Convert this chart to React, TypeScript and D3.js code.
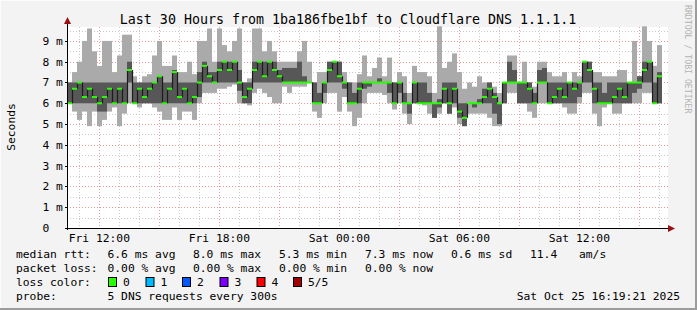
import React from "react";
import * as d3 from "d3";

const W = 697;
const H = 310;

const title = "Last 30 Hours from 1ba186fbe1bf to Cloudflare DNS 1.1.1.1";
const startTime = new Date(Date.UTC(2025, 9, 24, 10, 23));
const endTime = new Date(Date.UTC(2025, 9, 25, 16, 23));
const stepMinutes = 15;

// per-step values, ms
const median = [
  6.0, 6.7, 7.0, 6.3, 6.7, 6.3, 6.0, 6.3, 6.7, 6.0,
  6.7, 6.0, 7.6, 6.0, 6.7, 6.3, 6.7, 7.0, 7.3, 6.0,
  6.7, 7.5, 6.3, 6.7, 6.0, 6.3, 7.0, 7.8, 7.3, 7.0,
  7.6, 8.0, 7.6, 8.0, 7.0, 6.3, 6.7, 7.6, 8.0, 7.3,
  8.0, 7.6, 7.3, 7.0, 7.0, 7.0, 7.0, 7.0, 7.0, 6.0,
  6.0, 7.0, 7.6, 8.0, 7.3, 7.0, 6.0, 6.0, 6.7, 7.0,
  7.0, 7.0, 7.0, 7.0, 7.0, 6.0, 7.0, 6.0, 6.0, 7.0,
  6.0, 6.0, 6.0, 6.0, 6.0, 6.7, 6.0, 6.7, 5.6, 5.3,
  6.0, 6.0, 6.0, 6.3, 6.7, 6.3, 6.0, 7.0, 7.0, 7.0,
  7.0, 7.0, 6.7, 6.0, 7.0, 7.0, 6.0, 6.3, 6.7, 6.3,
  7.0, 6.7, 7.0, 8.0, 7.6, 6.7, 6.0, 6.0, 6.0, 6.3,
  6.7, 6.3, 7.0, 7.0, 7.0, 7.6, 8.0, 6.0, 7.3,
];
const smokeLo = [
  6.0, 6.0, 6.0, 6.0, 6.0, 6.0, 5.6, 5.6, 6.0, 6.0,
  6.0, 6.0, 7.0, 6.0, 6.0, 6.0, 6.0, 6.0, 6.0, 6.0,
  6.0, 6.0, 6.0, 6.0, 6.0, 6.0, 6.3, 7.0, 7.0, 7.0,
  7.0, 7.0, 7.0, 7.0, 6.6, 6.0, 6.0, 7.0, 7.0, 7.0,
  7.0, 7.0, 7.0, 7.0, 7.0, 7.0, 7.0, 7.0, 7.0, 6.0,
  6.0, 6.5, 7.0, 7.0, 7.0, 6.7, 6.0, 6.0, 6.0, 6.7,
  6.8, 7.0, 7.0, 7.0, 6.5, 6.0, 6.5, 6.0, 5.5, 6.0,
  6.0, 6.0, 6.0, 5.3, 5.8, 6.0, 5.5, 6.0, 5.3, 4.9,
  6.0, 5.8, 6.0, 6.0, 6.0, 5.5, 5.0, 6.0, 7.0, 7.0,
  6.0, 6.0, 6.0, 6.0, 7.0, 7.0, 6.0, 6.0, 6.0, 6.0,
  6.0, 6.0, 6.3, 7.0, 7.0, 6.0, 6.0, 6.0, 6.0, 6.0,
  6.0, 6.0, 6.0, 6.5, 6.7, 7.0, 7.0, 6.0, 6.0,
];
const smokeHi = [
  7.0, 7.0, 7.0, 7.0, 7.0, 7.0, 7.0, 7.0, 7.0, 7.0,
  7.0, 7.0, 8.0, 7.0, 7.0, 7.0, 7.0, 7.0, 7.3, 7.0,
  7.0, 7.6, 7.0, 7.0, 7.0, 7.0, 7.5, 8.0, 7.5, 7.5,
  8.0, 8.0, 8.0, 8.0, 7.6, 7.0, 7.0, 8.0, 8.0, 8.0,
  8.0, 8.0, 7.6, 7.7, 7.7, 7.7, 8.0, 7.3, 7.0, 7.0,
  6.5, 7.0, 8.0, 8.0, 8.0, 7.0, 7.0, 6.5, 7.0, 7.0,
  7.0, 7.0, 7.2, 7.0, 7.0, 7.0, 7.0, 6.5, 6.0, 7.0,
  7.0, 7.0, 6.5, 6.0, 6.2, 7.0, 7.0, 7.0, 6.0, 6.0,
  6.0, 6.0, 6.2, 6.7, 7.0, 6.5, 6.0, 7.0, 8.0, 7.6,
  7.0, 7.0, 7.0, 6.5, 7.6, 7.7, 7.0, 7.0, 7.0, 7.0,
  7.0, 7.0, 7.0, 8.0, 8.0, 7.0, 7.0, 6.5, 7.0, 7.0,
  7.0, 7.0, 7.0, 7.0, 7.3, 8.0, 8.0, 7.0, 7.5,
];
const pingMin = [
  6.0, 5.6, 5.2, 5.6, 4.9, 5.6, 4.9, 5.2, 5.6, 5.8,
  4.9, 5.5, 6.0, 6.0, 5.8, 6.0, 6.0, 5.8, 5.6, 5.2,
  5.2, 5.8, 5.2, 5.6, 5.6, 5.2, 6.0, 6.5, 6.5, 6.5,
  6.7, 6.7, 6.8, 6.9, 6.0, 6.0, 5.9, 6.5, 6.7, 6.5,
  6.3, 6.0, 6.0, 6.8, 6.5, 6.8, 6.8, 6.8, 7.0, 5.6,
  5.3, 6.0, 6.5, 6.5, 5.6, 6.3, 5.6, 4.9, 5.3, 6.0,
  6.5, 6.5, 6.5, 6.4, 6.0, 5.7, 6.0, 5.5, 5.0, 6.0,
  6.0, 5.9, 5.5, 5.3, 5.5, 6.0, 5.5, 5.8, 5.0, 4.9,
  5.5, 5.5, 5.5, 5.5, 5.3, 4.9, 4.9, 6.0, 6.5, 6.5,
  6.0, 6.0, 5.6, 5.3, 6.0, 6.0, 6.0, 6.0, 6.0, 5.8,
  5.5, 5.5, 6.0, 6.5, 6.5, 5.5, 4.9, 5.8, 6.0, 5.5,
  5.5, 6.0, 6.0, 6.0, 6.0, 6.5, 6.5, 6.0, 6.0,
];
const pingMax = [
  7.0, 7.5, 8.0, 9.0, 9.6, 8.5, 7.8, 9.0, 9.0, 7.5,
  8.3, 9.3, 9.3, 7.3, 7.0, 7.3, 7.4, 8.3, 9.0, 7.8,
  7.8, 8.3, 7.5, 7.5, 8.0, 7.4, 9.0, 9.0, 9.6, 8.0,
  9.6, 8.8, 8.5, 9.0, 9.6, 7.0, 7.2, 9.6, 9.6, 8.5,
  9.0, 8.5, 8.0, 8.0, 8.0, 8.0, 8.5, 9.0, 8.0, 7.0,
  7.5, 7.5, 8.0, 8.0, 8.0, 7.5, 7.0, 7.0, 7.4, 8.3,
  7.3, 7.7, 8.2, 7.3, 8.2, 7.0, 7.5, 7.3, 6.5, 7.8,
  7.5, 7.5, 7.3, 6.5, 9.7, 7.7, 8.0, 8.4, 7.5, 6.7,
  7.0, 6.8, 7.3, 7.0, 7.0, 6.8, 6.5, 7.0, 8.3, 8.3,
  7.0, 8.0, 7.0, 6.8, 8.0, 8.0, 7.5, 7.3, 7.3, 7.5,
  7.0, 7.5, 7.3, 8.0, 8.0, 7.5, 7.5, 7.3, 7.3, 7.3,
  7.6, 7.6, 7.0, 9.0, 7.3, 9.7, 9.0, 7.8, 8.8,
];

const yMajorTicks = [1, 2, 3, 4, 5, 6, 7, 8, 9];
const yMinorTicks = [0.5, 1.5, 2.5, 3.5, 4.5, 5.5, 6.5, 7.5, 8.5, 9.5];
const yLabelTicks = [0, 1, 2, 3, 4, 5, 6, 7, 8, 9];

const rttLegend = [
  { text: "median rtt:", x: 16 },
  { text: "6.6 ms avg", x: 107.5 },
  { text: "8.0 ms max", x: 193 },
  { text: "5.3 ms min", x: 279 },
  { text: "7.3 ms now", x: 365 },
  { text: "0.6 ms sd", x: 451 },
  { text: "11.4", x: 530 },
  { text: "am/s", x: 579 },
];
const lossLegend = [
  { text: "packet loss:", x: 16 },
  { text: "0.00 % avg", x: 107.5 },
  { text: "0.00 % max", x: 193 },
  { text: "0.00 % min", x: 279 },
  { text: "0.00 % now", x: 365 },
];
const lossColors = [
  { label: "0", color: "#26ff00", x: 108 },
  { label: "1", color: "#00b8ff", x: 145.5 },
  { label: "2", color: "#0059ff", x: 182 },
  { label: "3", color: "#7e00ff", x: 219.5 },
  { label: "4", color: "#ff0000", x: 256.5 },
  { label: "5/5", color: "#a10000", x: 293 },
];
const probeText = "5 DNS requests every 300s";
const stampText = "Sat Oct 25 16:19:21 2025";

const MONO = "'DejaVu Sans Mono', monospace";

export default function App() {
  const left = 67;
  const right = 667;
  const top = 27;
  const bottom = 228;

  const x = d3.scaleUtc().domain([startTime, endTime]).range([left, right]);
  const y = d3.scaleLinear().domain([0, 9.67]).range([bottom, top]);

  const hours = d3.utcHour.every(1)!.range(startTime, endTime);
  const minorHours = hours.filter((d) => d.getUTCHours() % 3 !== 0);
  const majorHours = hours.filter((d) => d.getUTCHours() % 3 === 0);
  const labelHours = hours.filter((d) => d.getUTCHours() % 6 === 0);
  const fmt = d3.utcFormat("%a %H:%M");

  const crisp = (v: number) => Math.round(v) + 0.5;

  const steps = median.map((m, i) => {
    const t0 = d3.utcMinute.offset(startTime, i * stepMinutes);
    const t1 = d3.utcMinute.offset(startTime, (i + 1) * stepMinutes);
    return { i, m, x0: x(t0), x1: x(t1) };
  });

  return (
    <svg width={W} height={H} style={{ display: "block", position: "absolute", left: 0, top: 0 }}>
      <rect x={0} y={0} width={W} height={H} fill="#f3f3f3" />
      <line x1={0} y1={0.5} x2={W} y2={0.5} fill="none" stroke="#fcfcfc" />
      <line x1={0.5} y1={0} x2={0.5} y2={H} stroke="#fcfcfc" />
      <line x1={W - 1} y1={0} x2={W - 1} y2={H} stroke="#9c9c9c" strokeWidth={2} />
      <line x1={0} y1={H - 1} x2={W} y2={H - 1} stroke="#9c9c9c" strokeWidth={2} />

      <rect x={left} y={top} width={right - left + 1} height={bottom - top} fill="#ffffff" />

      {/* grid */}
      {yMinorTicks.filter((v) => y(v) >= top).map((v) => (
        <line key={"ym" + v} x1={left} x2={right + 1} y1={crisp(y(v))} y2={crisp(y(v))}
          stroke="#c8c8c8" strokeDasharray="1,2" />
      ))}
      {minorHours.map((d) => (
        <line key={"xm" + d.getTime()} x1={crisp(x(d))} x2={crisp(x(d))} y1={top} y2={bottom}
          stroke="#c8c8c8" strokeDasharray="1,2" />
      ))}
      {yMajorTicks.map((v) => (
        <line key={"yM" + v} x1={left} x2={right + 1} y1={crisp(y(v))} y2={crisp(y(v))}
          stroke="#e89a9a" strokeDasharray="1,2" />
      ))}
      {majorHours.map((d) => (
        <line key={"xM" + d.getTime()} x1={crisp(x(d))} x2={crisp(x(d))} y1={top} y2={bottom + 2}
          stroke="#e89a9a" strokeDasharray="1,2" />
      ))}

      {/* smoke */}
      {steps.map((s) => (
        <rect key={"l" + s.i} x={s.x0} width={s.x1 - s.x0}
          y={y(pingMax[s.i])} height={y(pingMin[s.i]) - y(pingMax[s.i])} fill="#aaaaaa" />
      ))}
      {steps.map((s) => (
        <rect key={"d" + s.i} x={s.x0} width={s.x1 - s.x0}
          y={y(smokeHi[s.i])} height={Math.max(0, y(smokeLo[s.i]) - y(smokeHi[s.i]))} fill="#575757" />
      ))}
      {/* median transitions */}
      {steps.slice(0, -1).map((s) => (
        <line key={"v" + s.i} x1={crisp(s.x1)} x2={crisp(s.x1)}
          y1={y(s.m)} y2={y(median[s.i + 1])} stroke="#1c1c1c" strokeWidth={1.2} />
      ))}
      {steps.map((s) => (
        <line key={"m" + s.i} x1={s.x0} x2={s.x1} y1={y(s.m)} y2={y(s.m)}
          stroke="#26ff00" strokeWidth={2} />
      ))}

      {/* axes */}
      <line x1={left - 2} x2={right + 2} y1={bottom + 0.5} y2={bottom + 0.5} stroke="#000" />
      <line x1={left + 0.5} x2={left + 0.5} y1={bottom + 2} y2={top - 5} stroke="#000" />
      <path d={`M${left + 0.5},${top - 10} L${left - 3},${top - 3} L${left + 4},${top - 3} Z`} fill="#9a1010" />
      <path d={`M${right + 8},${bottom + 0.5} L${right + 1},${bottom - 3} L${right + 1},${bottom + 4} Z`} fill="#9a1010" />
      {yLabelTicks.map((v) => (
        <line key={"yt" + v} x1={left - 2} x2={left} y1={crisp(y(v))} y2={crisp(y(v))} stroke="#000" />
      ))}

      {/* y labels */}
      {yLabelTicks.map((v) => (
        <text key={"yl" + v} x={42.5} y={y(v) + 4} fontFamily={MONO} fontSize={11.3} fill="#000">
          {v === 0 ? "0" : `${v} m`}
        </text>
      ))}
      <text transform={`translate(15,127) rotate(-90)`} textAnchor="middle" fontFamily={MONO}
        fontSize={11.3} fill="#000">Seconds</text>

      {/* x labels */}
      {labelHours.map((d) => (
        <text key={"xl" + d.getTime()} x={x(d)} y={242} textAnchor="middle" fontFamily={MONO}
          fontSize={11.3} fill="#000">{fmt(d)}</text>
      ))}

      {/* title */}
      <text x={348} y={24} textAnchor="middle" fontFamily={MONO} fontSize={13.3} fill="#000">{title}</text>
      <text transform={`translate(685,5) rotate(90)`} fontFamily={MONO} fontSize={8.2} fill="#b4b4b4">
        RRDTOOL / TOBI OETIKER
      </text>

      {/* legend */}
      {rttLegend.map((l) => (
        <text key={"r" + l.x} x={l.x} y={258} fontFamily={MONO} fontSize={11.3} fill="#000">{l.text}</text>
      ))}
      {lossLegend.map((l) => (
        <text key={"p" + l.x} x={l.x} y={272} fontFamily={MONO} fontSize={11.3} fill="#000">{l.text}</text>
      ))}
      <text x={16} y={286} fontFamily={MONO} fontSize={11.3} fill="#000">loss color:</text>
      {lossColors.map((c) => (
        <g key={"c" + c.label}>
          <rect x={c.x + 0.5} y={277.5} width={8} height={9} fill={c.color} stroke="#000" />
          <text x={c.x + 15} y={286} fontFamily={MONO} fontSize={11.3} fill="#000">{c.label}</text>
        </g>
      ))}
      <text x={16} y={300} fontFamily={MONO} fontSize={11.3} fill="#000">probe:</text>
      <text x={107.5} y={300} fontFamily={MONO} fontSize={11.3} fill="#000">{probeText}</text>
      <text x={680} y={300} textAnchor="end" fontFamily={MONO} fontSize={11.3} fill="#000">{stampText}</text>
    </svg>
  );
}
